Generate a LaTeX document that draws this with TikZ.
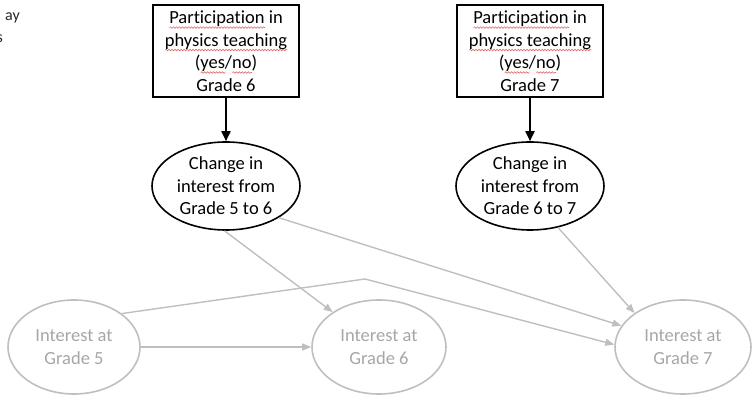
\documentclass[tikz,border=0pt]{standalone}
\usepackage{fontspec}
\setmainfont[Ligatures=NoCommon]{Carlito}
\usetikzlibrary{shapes.geometric,arrows.meta,decorations.pathmorphing}
\definecolor{lightline}{HTML}{BFBFBF}
\definecolor{lighttext}{HTML}{A6A6A6}
\definecolor{spellred}{HTML}{E06A6A}
% red wavy underline below a word
\newsavebox\squigbox
\newcommand\squig[1]{\sbox\squigbox{#1}\rlap{\tikz[baseline=0pt,x=1pt,y=1pt]\draw[spellred, line width=0.6pt, decorate, decoration={snake, amplitude=0.8pt, segment length=3pt}] (0,-4) -- (\wd\squigbox,-4);}\usebox\squigbox}
\tikzset{
  txt/.style={font=\fontsize{18.5}{22.5}\selectfont, align=center, inner sep=0pt},
  fragtxt/.style={font=\fontsize{16}{20}\selectfont, inner sep=0pt, text=black!85, anchor=base east},
  blackbox/.style={txt, draw=black, line width=1.8pt, rectangle, minimum width=146pt, minimum height=92pt},
  blackoval/.style={txt, draw=black, line width=1.6pt, ellipse, minimum width=148pt, minimum height=88pt},
  greyoval/.style={txt, text=lighttext, draw=lightline, line width=1.6pt, ellipse, minimum width=134pt, minimum height=94pt},
  blackarrow/.style={draw=black, line width=1.8pt, -{Triangle[length=10pt,width=9pt]}},
  greyarrow/.style={draw=lightline, line width=1.4pt, -{Triangle[length=9pt,width=7pt]}},
}
\begin{document}
\begin{tikzpicture}[x=1pt,y=-1pt]
\useasboundingbox (0,0) rectangle (753,395);

% fragments of a text block cut at the left edge
\node[fragtxt] (fragA) at (20,21) {ay};
\node[fragtxt] (fragB) at (3,43) {s};

% participation in physics teaching
\node[blackbox] (part6) at (226,51) {\squig{Participation} in\\\squig{physics teaching}\\(\squig{yes}/\squig{no})\\Grade 6};
\node[blackbox] (part7) at (530,51) {\squig{Participation} in\\\squig{physics teaching}\\(\squig{yes}/\squig{no})\\Grade 7};

% change in interest
\node[blackoval] (ch56) at (226,186) {Change in\\interest from\\Grade 5 to 6};
\node[blackoval] (ch67) at (530,186) {Change in\\interest from\\Grade 6 to 7};

% interest at each grade
\node[greyoval, minimum width=132pt] (g5) at (74,347) {Interest at\\Grade 5};
\node[greyoval] (g6) at (379,347) {Interest at\\Grade 6};
\node[greyoval, minimum width=136pt] (g7) at (683,347) {Interest at\\Grade 7};

\coordinate (bend) at (365,279);

% connectors
\draw[blackarrow] (part6) -- (ch56);
\draw[blackarrow] (part7) -- (ch67);

\draw[greyarrow] (g5) -- (g6);
\draw[greyarrow] (ch56.268) -- (g6.143);
\draw[greyarrow] (ch56.-31) -- (g7.161);
\draw[greyarrow] (ch67.-56) -- (g7.145);
\draw[greyarrow] (g5.35) -- (bend) -- (g7.178);
\end{tikzpicture}
\end{document}
